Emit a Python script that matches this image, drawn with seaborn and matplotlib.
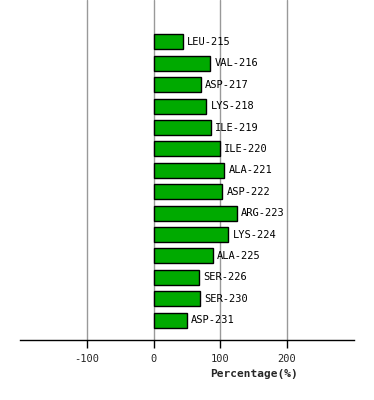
import matplotlib
matplotlib.use("Agg")
import matplotlib.pyplot as plt
import seaborn as sns
import pandas as pd

residues = ["LEU-215", "VAL-216", "ASP-217", "LYS-218", "ILE-219", "ILE-220", "ALA-221",
            "ASP-222", "ARG-223", "LYS-224", "ALA-225", "SER-226", "SER-230", "ASP-231"]
percentages = [44, 85, 71, 79, 86, 100, 106, 103, 125, 112, 89, 68, 70, 50]
xticks = [-100, 0, 100, 200]

df = pd.DataFrame({"residue": residues, "pct": percentages})

sns.set_style("white")
plt.rcParams['font.family'] = ['DejaVu Sans Mono', 'DejaVu Sans']

fig = plt.figure(figsize=(3.74, 4.0), dpi=100)
ax = fig.add_axes([20/374, 60/400, 334/374, 340/400])

sns.barplot(data=df, x="pct", y="residue", orient="h", color="#00aa00",
            edgecolor="black", linewidth=1.0, width=0.7, saturation=1, ax=ax, zorder=3)

for i, (r, v) in enumerate(zip(residues, percentages)):
    ax.annotate(r, xy=(v, i), xytext=(3, 0), textcoords="offset points",
                ha="left", va="center", fontsize=7.5, color="black")

ax.set_xlim(-201, 301)
ax.set_ylim(13.93, -1.96)
ax.set_xticks(xticks)
ax.set_xticklabels([str(t) for t in xticks], fontsize=7.5)
ax.set_yticks([])
ax.set_ylabel("")
for t in xticks:
    ax.axvline(t, color="#999999", linewidth=1, zorder=1)
for s in ["top", "left", "right"]:
    ax.spines[s].set_visible(False)
ax.spines["bottom"].set_color("black")
ax.spines["bottom"].set_linewidth(1)
ax.tick_params(axis="x", direction="out", length=6, width=1, color="black", pad=4, bottom=True)
ax.set_xlabel("Percentage(%)", fontsize=8, fontweight="bold")
ax.xaxis.set_label_coords(0.70, -0.085)

fig.savefig("out.png", dpi=100)
